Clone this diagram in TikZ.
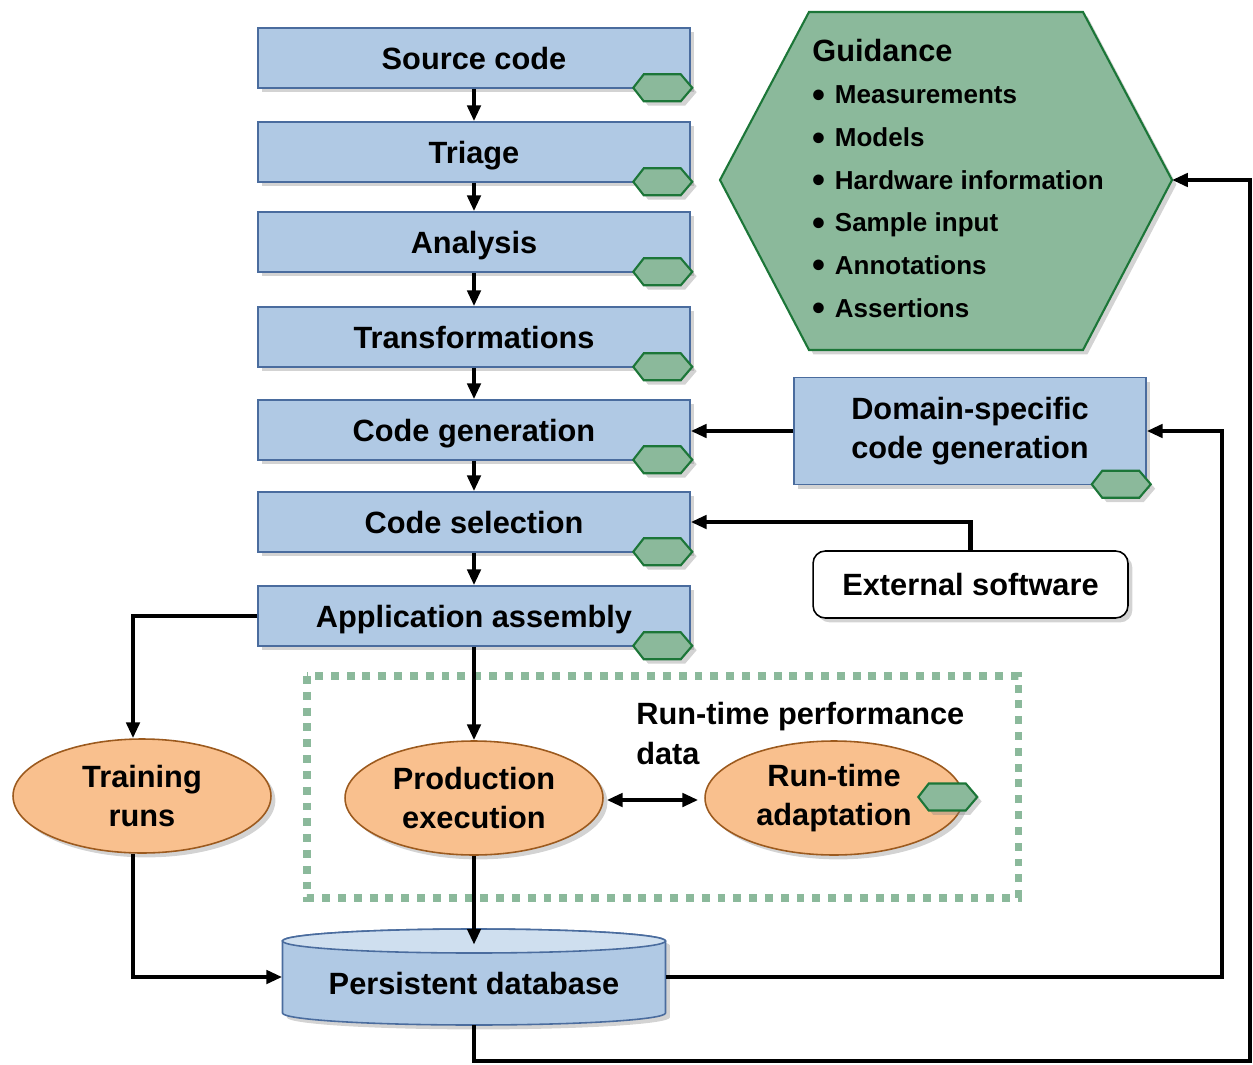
\documentclass[tikz,border=0pt]{standalone}
\usepackage{fontspec}
\setmainfont{Liberation Sans}
\usepackage{xcolor}
\usepackage{tikz}
\usetikzlibrary{arrows.meta,calc,shadows,shapes.geometric}

\definecolor{boxblue}{RGB}{176,201,228}
\definecolor{boxline}{RGB}{74,108,158}
\definecolor{dbtop}{RGB}{207,223,239}
\definecolor{hexgreen}{RGB}{139,185,155}
\definecolor{hexline}{RGB}{28,118,56}
\definecolor{ovalfill}{RGB}{249,192,142}
\definecolor{ovalline}{RGB}{156,90,30}

\begin{document}
\begin{tikzpicture}[x=0.02cm, y=-0.02cm,
    every node/.style={font=\fontsize{17.5}{22.5}\selectfont\bfseries},
    shade/.style={drop shadow={shadow xshift=2.5pt, shadow yshift=-2.5pt, opacity=0.35}},
    plainbox/.style={draw=boxline, fill=boxblue, line width=0.9pt, shade},
    stage/.style={plainbox, minimum width=8.64cm, minimum height=1.2cm, text height=12.8pt, text depth=0.2pt},
    oval/.style={ellipse, draw=ovalline, fill=ovalfill, line width=0.9pt, minimum width=5.16cm, minimum height=2.28cm, align=center, shade},
    hexmark/.pic={\filldraw[draw=hexline, fill=hexgreen, line width=1.2pt, shade]
        (-29.5,0) -- (-19,-13.5) -- (18,-13.5) -- (29.5,0) -- (18,13.5) -- (-19,13.5) -- cycle;},
    flow/.style={line width=2.4pt, -{Triangle[length=9pt, width=7.5pt]}},
    item/.style={font=\fontsize{14.8}{18}\selectfont\bfseries, anchor=base west, inner sep=0pt}]
    \useasboundingbox (0,0) rectangle (1253,1064);

    % left column
    \node[stage] (src) at (474,58) {Source code};
    \node[stage] (tri) at (474,152) {Triage};
    \node[stage] (ana) at (474,242) {Analysis};
    \node[stage] (trf) at (474,337) {Transformations};
    \node[stage] (cgen) at (474,430) {Code generation};
    \node[stage] (csel) at (474,522) {Code selection};
    \node[stage] (app) at (474,616) {Application assembly};

    \foreach \n in {src,tri,ana,trf,cgen,csel,app}
        \pic at ($(\n.south east)+(-28,-1)$) {hexmark};

    % guidance
    \filldraw[draw=hexline, fill=hexgreen, line width=1.2pt, shade]
        (720,180) -- (809,12) -- (1083,12) -- (1172,180) -- (1083,350) -- (809,350) -- cycle;
    \coordinate (guide) at (1172,180);
    \node[anchor=base west, inner sep=0pt] (gtitle) at (812,62) {Guidance};
    \foreach \lbl [count=\i] in {Measurements, Models, Hardware information, Sample input, Annotations, Assertions}
        \node[item] (g\i) at (812,{104+42.6*(\i-1)}) {\raisebox{-2pt}{\fontsize{21}{21}\selectfont\textbullet}\hspace{5.5pt}\lbl};

    \node[plainbox, minimum width=7.04cm, minimum height=2.14cm, align=center] (dom) at (970,431) {Domain-specific\\code generation};
    \pic at ($(dom.south east)+(-25.5,-1)$) {hexmark};
    \node[draw, fill=white, rounded corners=7pt, line width=0.9pt, minimum width=6.3cm, minimum height=1.34cm, shade] (ext) at (970.5,584.5) {External software};

    % run-time part
    \draw[hexgreen, line width=4pt, dash pattern=on 4.5pt off 4.5pt] (307,676) rectangle (1018,898);
    \node[oval] (train) at (142,796) {Training\\runs};
    \node[oval] (prod) at (474,798) {Production\\execution};
    \node[oval] (rta) at (834,798) {Run-time\\adaptation};
    \pic at ($(rta.east)+(-16,-1)$) {hexmark};
    \node[anchor=north west, align=left, inner sep=0pt] (perf) at (636,702) {Run-time performance\\data};

    % database
    \node[minimum width=7.66cm, minimum height=1.92cm, inner sep=0pt] (db) at (474,977) {};
    \path[draw=boxline, fill=boxblue, line width=0.9pt, shade] (282.5,941) -- (282.5,1013)
        arc[start angle=180, end angle=0, x radius=191.5, y radius=12] -- (665.5,941)
        arc[start angle=0, end angle=-180, x radius=191.5, y radius=12] -- cycle;
    \filldraw[draw=boxline, fill=dbtop, line width=0.9pt] (474,941) ellipse[x radius=191.5, y radius=12];
    \node at (474,983) {Persistent database};

    % connectors
    \draw[flow] (src) -- (tri);
    \draw[flow] (tri) -- (ana);
    \draw[flow] (ana) -- (trf);
    \draw[flow] (trf) -- (cgen);
    \draw[flow] (cgen) -- (csel);
    \draw[flow] (csel) -- (app);
    \draw[flow] (app) -- (prod);
    \draw[flow] (app.west) -| ([xshift=-0.18cm]train.north);
    \draw[flow] ([xshift=-0.18cm]train.south) |- (db.west);
    \draw[flow] (prod.south) -- ($(db.north)+(0,16)$);
    \draw[flow, {Triangle[length=9pt, width=7.5pt]}-{Triangle[length=9pt, width=7.5pt]}] (prod.east) ++(3,2) -- ($(rta.west)+(-6,2)$);
    \draw[flow] (dom.west) -- (dom.west -| cgen.east);
    \draw[flow] (ext.north) |- (csel.east);
    \draw[flow] (db.east) -| ($(dom.east)+(75,0)$) -- (dom.east);
    \draw[flow] (db.south) -- ++(0,36) -| ($(guide)+(78,0)$) -- (guide);
\end{tikzpicture}
\end{document}
